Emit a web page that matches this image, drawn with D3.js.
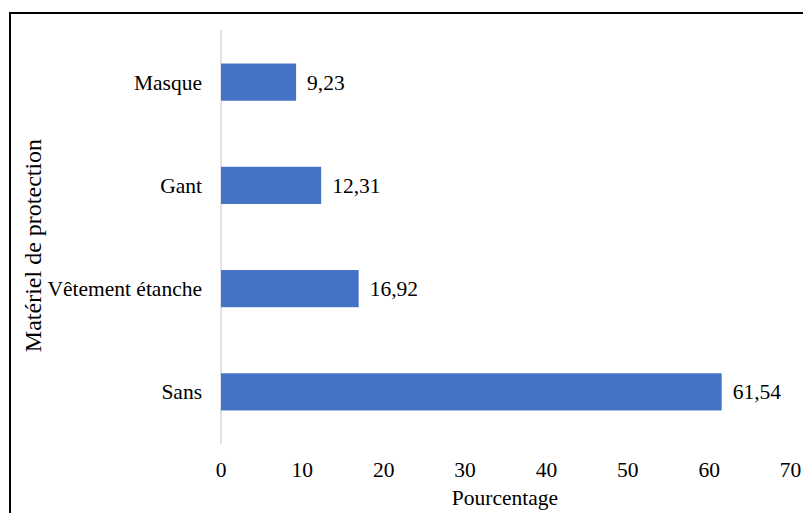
<!DOCTYPE html>
<html>
<head>
<meta charset="utf-8">
<script src="https://cdn.jsdelivr.net/npm/d3@7"></script>
<style>
  body { margin: 0; background: #fff; }
  text { font-family: "Liberation Serif", "Times New Roman", serif; fill: #000; }
</style>
</head>
<body>
<div id="container"></div>
<script>
// chart data
var categories = ["Masque", "Gant", "Vêtement étanche", "Sans"];
var values = [9.23, 12.31, 16.92, 61.54];
var valueLabels = ["9,23", "12,31", "16,92", "61,54"];
var xTicks = [0, 10, 20, 30, 40, 50, 60, 70];

var width = 803, height = 513;
var fontSize = 21.5;

var svg = d3.select("#container").append("svg")
    .attr("width", width)
    .attr("height", height);

// outer frame (runs off the right and bottom edges)
svg.append("rect")
    .attr("x", 10).attr("y", 13)
    .attr("width", 820).attr("height", 520)
    .style("fill", "none")
    .style("stroke", "#000")
    .style("stroke-width", 2);

var x = d3.scaleLinear().domain([0, 70]).range([221, 790.5]);
var y = d3.scaleBand().domain(categories).range([30.5, 443.5]).paddingInner(0.64).paddingOuter(0.32);

// vertical axis line
svg.append("line")
    .attr("x1", x(0)).attr("x2", x(0))
    .attr("y1", 30).attr("y2", 444)
    .style("stroke", "#d9d9d9")
    .style("stroke-width", 1.5);

// bars
svg.append("g").selectAll("rect")
    .data(values)
    .enter().append("rect")
    .attr("x", x(0))
    .attr("y", function(d, i) { return y(categories[i]); })
    .attr("width", function(d) { return x(d) - x(0); })
    .attr("height", y.bandwidth())
    .style("fill", "#4472c4");

// value labels
svg.append("g").selectAll("text")
    .data(values)
    .enter().append("text")
    .attr("x", function(d) { return x(d) + 11; })
    .attr("y", function(d, i) { return y(categories[i]) + y.bandwidth() / 2; })
    .attr("dy", "0.35em")
    .style("font-size", fontSize + "px")
    .text(function(d, i) { return valueLabels[i]; });

// category labels
svg.append("g").selectAll("text")
    .data(categories)
    .enter().append("text")
    .attr("x", 202)
    .attr("y", function(d) { return y(d) + y.bandwidth() / 2; })
    .attr("dy", "0.35em")
    .attr("text-anchor", "end")
    .style("font-size", fontSize + "px")
    .text(function(d) { return d; });

// x tick labels
svg.append("g").selectAll("text")
    .data(xTicks)
    .enter().append("text")
    .attr("x", function(d) { return x(d); })
    .attr("y", 477)
    .attr("text-anchor", "middle")
    .style("font-size", fontSize + "px")
    .text(function(d) { return d; });

// axis titles
svg.append("text")
    .attr("x", 505).attr("y", 505)
    .attr("text-anchor", "middle")
    .style("font-size", fontSize + "px")
    .text("Pourcentage");

svg.append("text")
    .attr("transform", "translate(41,245.5) rotate(-90)")
    .attr("text-anchor", "middle")
    .style("font-size", "24px")
    .text("Matériel de protection");
</script>
</body>
</html>
